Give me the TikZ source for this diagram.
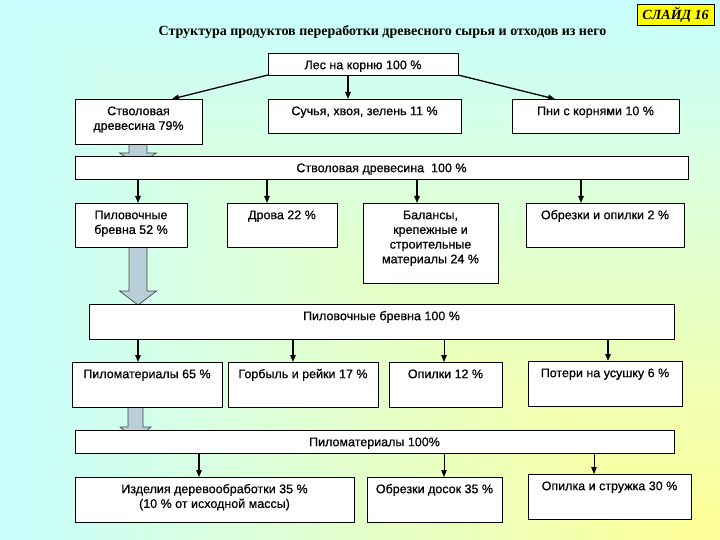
\documentclass[tikz,border=0pt]{standalone}
\usepackage{fontspec}
\setmainfont{Liberation Sans}[FakeBold=0.6]
\newfontfamily\titleserif{Liberation Serif}
\usetikzlibrary{arrows.meta,calc}
\pgfdeclarelayer{back}
\pgfdeclarelayer{mid}
\pgfsetlayers{back,mid,main}
\definecolor{bgcyan}{RGB}{200,255,255}
\definecolor{bgyellow}{RGB}{255,255,150}
\definecolor{blkfill}{RGB}{184,206,216}
\definecolor{blkline}{RGB}{70,70,70}
\definecolor{slideyellow}{RGB}{255,255,0}
\newcommand\mystrut{\rule{0pt}{9.5pt}}
\newcommand\bx[6]{%
  \node[box, minimum width=#4pt-#2pt, minimum height=#5pt-#3pt, anchor=north west] (#1) at (#2,#3) {};
  \node[txt] (#1t) at ([yshift=-6.5pt]#1.north) {\mystrut#6};}
\begin{document}
\begin{tikzpicture}[x=1pt,y=-1pt,
  box/.style={draw, line width=0.8pt, fill=white, inner sep=0pt, outer sep=0pt},
  txt/.style={font=\fontsize{12.5}{14.7}\selectfont, align=center, inner sep=0pt, anchor=north},
  arr/.style={line width=1.3pt, -{Triangle[length=7pt,width=5.5pt]}},
  arrthin/.style={line width=0.8pt, -{Triangle[length=7pt,width=5.5pt]}},
  blk/.style={draw=blkline, line width=0.7pt, fill=blkfill, line join=miter}]
\useasboundingbox (0,0) rectangle (720,540);
\begin{pgfonlayer}{back}
  \shade[left color=bgcyan, right color=bgyellow] (0,0) rectangle (720,540);
  \begin{scope}
    \clip (0,0) -- (720,0) -- (720,540) -- cycle;
    \shade[top color=bgcyan, bottom color=bgyellow] (0,0) rectangle (720,540);
  \end{scope}
\end{pgfonlayer}

\node[font=\titleserif\bfseries\fontsize{14}{16}\selectfont, inner sep=0pt] (title) at (382.5,32)
  {Структура продуктов переработки древесного сырья и отходов из него};
\node[draw, line width=0.6pt, fill=slideyellow, minimum width=77pt, minimum height=21pt,
  inner sep=0pt, outer sep=0pt, font=\titleserif\bfseries\itshape\fontsize{14}{16}\selectfont]
  (slide) at (675.5,14.5) {СЛАЙД 16};

\bx{les}{268}{53}{458}{75}{Лес на корню 100 \%}
\bx{s79}{75}{99}{202}{144}{Стволовая\\древесина 79\%}
\bx{such}{268}{99}{461}{133}{Сучья, хвоя, зелень 11 \%}
\bx{pni}{512}{99}{679}{133}{Пни с корнями 10 \%}
\bx{s100}{75}{156}{688}{179}{Стволовая древесина\ \ 100 \%}
\bx{pil52}{75}{203}{187}{247}{Пиловочные\\бревна 52 \%}
\bx{drova}{227}{203}{337}{247}{Дрова 22 \%}
\bx{bal}{363}{203}{498}{283}{Балансы,\\крепежные и\\строительные\\материалы 24 \%}
\bx{obr2}{526}{203}{684}{247}{Обрезки и опилки 2 \%}
\bx{pil100}{89}{304}{674}{339}{Пиловочные бревна 100 \%}
\bx{pm65}{72}{362}{222}{407}{Пиломатериалы 65 \%}
\bx{gorb}{228}{362}{378}{407}{Горбыль и рейки 17 \%}
\bx{opil}{389}{362}{502}{407}{Опилки 12 \%}
\bx{pot}{528}{361}{682}{406}{Потери на усушку 6 \%}
\bx{pm100}{75}{430}{674}{453}{Пиломатериалы 100\%}
\bx{izd}{75}{477}{354}{522}{Изделия деревообработки 35 \%\\(10 \% от исходной массы)}
\bx{obr35}{367}{477}{502}{522}{Обрезки досок 35 \%}
\bx{opst}{528}{474}{691}{519}{Опилка и стружка 30 \%}

% x positions of the connectors
\coordinate (xa) at (348,0);
\coordinate (xb1) at (138,0);
\coordinate (xb2) at (267,0);
\coordinate (xb3) at (417,0);
\coordinate (xb4) at (581,0);
\coordinate (xc1) at (138,0);
\coordinate (xc2) at (293,0);
\coordinate (xc3) at (444,0);
\coordinate (xc4) at (608,0);
\coordinate (xd1) at (199,0);
\coordinate (xd2) at (444,0);
\coordinate (xd3) at (594,0);
\coordinate (k1) at (138,0);
\coordinate (k2) at (138,0);
\coordinate (k3) at (135.5,0);

\draw[arr] (les.south west) -- ($(s79.north west)+(97,0)$);
\draw[arr] (les.south -| xa) -- (such.north -| xa);
\draw[arr] (les.south east) -- ($(pni.north west)+(43,0)$);

\draw[arr] (s100.south -| xb1) -- (pil52.north -| xb1);
\draw[arr] (s100.south -| xb2) -- (drova.north -| xb2);
\draw[arr] (s100.south -| xb3) -- (bal.north -| xb3);
\draw[arr] (s100.south -| xb4) -- (obr2.north -| xb4);

\draw[arr] (pil100.south -| xc1) -- (pm65.north -| xc1);
\draw[arr] (pil100.south -| xc2) -- (gorb.north -| xc2);
\draw[arrthin] (pil100.south -| xc3) -- (opil.north -| xc3);
\draw[arr, line width=1.8pt] (pil100.south -| xc4) -- (pot.north -| xc4);

\draw[arr] (pm100.south -| xd1) -- (izd.north -| xd1);
\draw[arrthin] (pm100.south -| xd2) -- (obr35.north -| xd2);
\draw[arrthin] (pm100.south -| xd3) -- (opst.north -| xd3);

\begin{pgfonlayer}{mid}
  \draw[blk] let \p1=(s79.south), \p2=(k1) in
    (\x2-9pt,\y1) -- (\x2+9pt,\y1) -- (\x2+9pt,\y1-9pt) -- (\x2+18.5pt,\y1-9pt)
    -- (\x2,\y1-21pt) -- (\x2-18.5pt,\y1-9pt) -- (\x2-9pt,\y1-9pt) -- cycle;
  \draw[blk] let \p1=(pil52.south), \p2=(k2) in
    (\x2-9pt,\y1) -- (\x2+9pt,\y1) -- (\x2+9pt,\y1-44pt) -- (\x2+18.5pt,\y1-44pt)
    -- (\x2,\y1-58pt) -- (\x2-18.5pt,\y1-44pt) -- (\x2-9pt,\y1-44pt) -- cycle;
  \draw[blk] let \p1=(pm65.south), \p2=(k3) in
    (\x2-7.5pt,\y1) -- (\x2+7.5pt,\y1) -- (\x2+7.5pt,\y1-20pt) -- (\x2+15.5pt,\y1-20pt)
    -- (\x2,\y1-33pt) -- (\x2-15.5pt,\y1-20pt) -- (\x2-7.5pt,\y1-20pt) -- cycle;
\end{pgfonlayer}
\end{tikzpicture}
\end{document}
